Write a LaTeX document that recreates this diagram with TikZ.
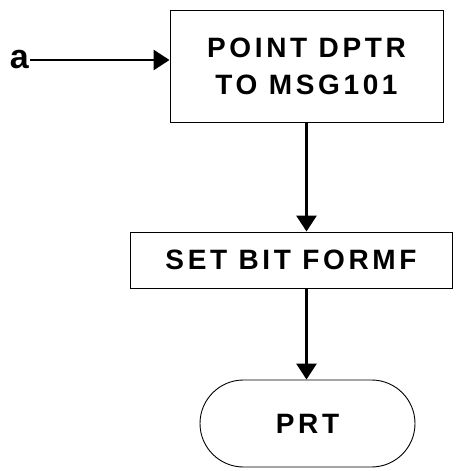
\documentclass[tikz,border=0pt]{standalone}
\usepackage{fontspec}
\setmainfont{Liberation Sans}
\newfontfamily\chartfont[LetterSpace=13]{Liberation Sans}
\usetikzlibrary{arrows.meta,shapes.misc}
\begin{document}
\begin{tikzpicture}[x=1pt, y=1pt,
    flowbox/.style={draw, line width=0.9pt, inner sep=0pt, font=\chartfont\fontsize{28}{37}\selectfont\bfseries, align=center},
    flowline/.style={line width=2.8pt, -{Triangle[length=16pt, width=20pt]}}]
    % Fix the page size
    \useasboundingbox (0,0) rectangle (471,-471);

    % Draw the boxes of the chart
    \node[flowbox, minimum width=273pt, minimum height=112pt] (point) at (306.5,-66) {POINT DPTR\\TO MSG101};
    \node[flowbox, minimum width=322pt, minimum height=56pt] (setbit) at (291,-260) {SET BIT FORMF};
    \node[flowbox, rounded rectangle, minimum width=215pt, minimum height=87pt] (prt) at (307.5,-423.5) {PRT};

    % Entry point
    \node[font=\fontsize{34}{34}\selectfont\bfseries, inner sep=1pt, anchor=east] (entry) at (30,-60) {a};

    % Draw the arrows
    \draw[flowline] (entry.east) -- (entry.east -| point.west);
    \draw[flowline] (point.south) -- (point.south |- setbit.north);
    \draw[flowline] (point.south |- setbit.south) -- (point.south |- prt.north);
\end{tikzpicture}
\end{document}
